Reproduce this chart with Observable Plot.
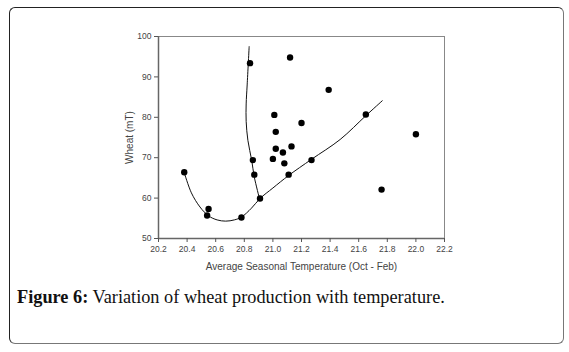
<!DOCTYPE html>
<html>
<head>
<meta charset="utf-8">
<script src="https://cdn.jsdelivr.net/npm/d3@7"></script>
<script src="https://cdn.jsdelivr.net/npm/@observablehq/plot@0.6"></script>
<style>
  html, body { margin: 0; padding: 0; background: #fff; }
  #wrap { position: relative; width: 569px; height: 352px; overflow: hidden; }
  #box { position: absolute; left: 9px; top: 7px; width: 553px; height: 335px;
         border: 1px solid #222; border-right-color: #777; border-bottom-color: #777; border-radius: 6px; }
  #chart { position: absolute; left: 0; top: 0; }
  #caption { position: absolute; left: 17px; top: 287px; font-family: "Liberation Serif", "DejaVu Serif", serif;
             font-size: 18.3px; color: #111; white-space: nowrap; }
</style>
</head>
<body>
<div id="wrap">
  <div id="box"></div>
  <div id="chart"></div>
  <div id="caption"><b>Figure 6:</b> Variation of wheat production with temperature.</div>
</div>
<script>
// Observed data points
const temps = [20.38, 20.54, 20.55, 20.78, 20.86, 20.87, 20.91, 21.00, 21.02, 21.07, 21.08, 21.13, 21.11, 21.27, 21.76, 20.84, 21.12, 21.01, 21.02, 21.39, 21.65, 21.20, 22.00];
const wheat = [66.4, 55.7, 57.3, 55.2, 69.4, 65.8, 59.9, 69.7, 72.2, 71.3, 68.6, 72.8, 65.8, 69.4, 62.1, 93.4, 94.8, 80.6, 76.4, 86.8, 80.7, 78.6, 75.8];

// Fitted curve 1 (U-shaped, then rising)
const curve1X = [20.38, 20.43, 20.49, 20.55, 20.61, 20.67, 20.73, 20.78, 20.85, 20.91, 21.00, 21.11, 21.27, 21.47, 21.65, 21.765];
const curve1Y = [66.3, 61.3, 57.8, 55.6, 54.6, 54.3, 54.6, 55.3, 57.5, 59.9, 62.5, 65.6, 69.6, 74.5, 80.4, 84.1];

// Fitted curve 2 (near-vertical)
const curve2X = [20.906, 20.87, 20.852, 20.825, 20.813, 20.813, 20.82, 20.834];
const curve2Y = [59.9, 65.2, 69.3, 74.3, 79.0, 83.3, 88.0, 97.5];

const xTicks = [20.2, 20.4, 20.6, 20.8, 21.0, 21.2, 21.4, 21.6, 21.8, 22.0, 22.2];
const yTicks = [50, 60, 70, 80, 90, 100];

const points = temps.map((t, i) => ({x: t, y: wheat[i]}));
const c1 = curve1X.map((t, i) => ({x: t, y: curve1Y[i]}));
const c2 = curve2X.map((t, i) => ({x: t, y: curve2Y[i]}));

const chart = Plot.plot({
  width: 569,
  height: 280,
  marginLeft: 158,
  marginRight: 125,
  marginTop: 36,
  marginBottom: 42,
  style: { fontFamily: "Liberation Sans, Arial, sans-serif", fontSize: "8.5px", color: "#444", background: "transparent" },
  x: { domain: [20.2, 22.2] },
  y: { domain: [50, 100] },
  marks: [
    Plot.frame({ stroke: "#888", strokeWidth: 1 }),
    Plot.ruleX([20.2], { stroke: "#666", strokeWidth: 1.5 }),
    Plot.ruleY([50], { stroke: "#666", strokeWidth: 1.5 }),
    Plot.axisX({ ticks: xTicks, tickFormat: d => d.toFixed(1), tickSize: 4, tickPadding: 3,
                 label: "Average Seasonal Temperature (Oct - Feb)", labelAnchor: "center", labelArrow: "none", labelOffset: 31,
                 fontSize: 8.5, stroke: "#555" }),
    Plot.axisY({ ticks: yTicks, tickSize: 4, tickPadding: 3,
                 label: "Wheat (mT)", labelAnchor: "center", labelArrow: "none", labelOffset: 33,
                 fontSize: 8.5, stroke: "#555" }),
    Plot.line(c1, { x: "x", y: "y", curve: "catmull-rom", stroke: "#111", strokeWidth: 1 }),
    Plot.line(c2, { x: "x", y: "y", curve: "catmull-rom", stroke: "#111", strokeWidth: 1 }),
    Plot.dot(points, { x: "x", y: "y", r: 3.2, fill: "#000", stroke: "none" })
  ]
});
document.getElementById("chart").appendChild(chart);
chart.querySelectorAll("g[aria-label='x-axis label'] text, g[aria-label='y-axis label'] text").forEach(t => t.setAttribute("font-size", "10"));
</script>
</body>
</html>
